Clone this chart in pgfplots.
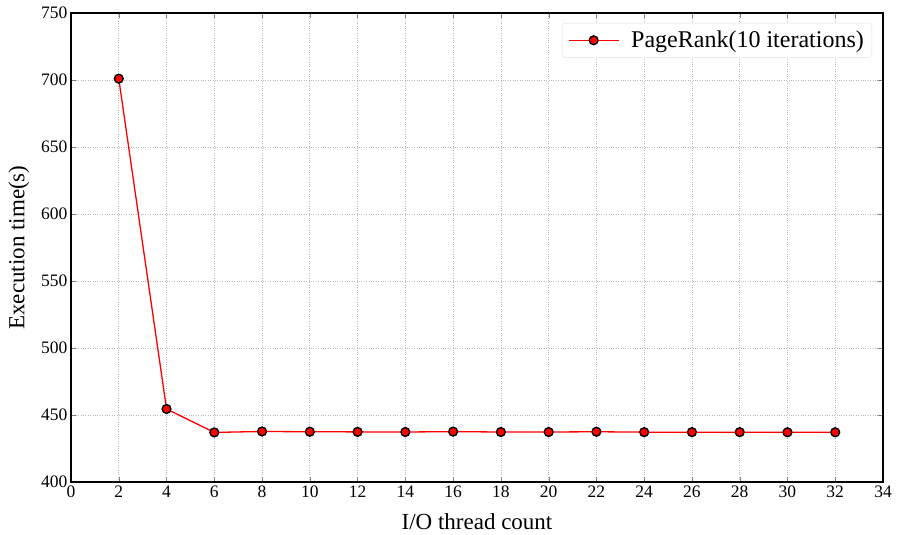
\documentclass[border=0pt]{standalone}
\usepackage{pgfplots}
\pgfplotsset{compat=1.18}
\usepackage{fontspec}
\setmainfont{Liberation Serif}

\begin{document}
\begin{tikzpicture}
\begin{axis}[
  name=ax,
  scale only axis,
  width=812pt, height=469pt,
  xmin=0, xmax=34, ymin=400, ymax=750,
  xtick={0,2,...,34}, ytick={400,450,...,750},
  xlabel={I/O thread count}, ylabel={Execution time(s)},
  label style={font=\fontsize{23}{27}\selectfont},
  tick label style={font=\fontsize{17.5}{20}\selectfont},
  /pgf/number format/assume math mode=true,
  /pgf/number format/1000 sep={},
  xlabel style={yshift=-9pt},
  ylabel style={yshift=5pt},
  tick align=inside, tick pos=both,
  major tick length=5pt,
  axis line style={line width=1.5pt},
  grid=major, grid style={dotted, gray!55, line width=0.7pt},
  legend style={at={(1,1)}, anchor=north east, xshift=-11pt, yshift=-10pt,
    font=\fontsize{24}{28}\selectfont, draw=gray!25, rounded corners=3pt,
    inner xsep=6pt, inner ysep=6pt, column sep=10pt},
  legend cell align=left,
  legend image code/.code={
    \draw[mark repeat=2, mark phase=2, #1] plot coordinates {(0cm,0cm)(0.875cm,0cm)(1.75cm,0cm)};
  },
]
\addplot[red, line width=1.3pt, mark=*, mark size=4.4pt,
  mark options={fill=red, draw=black, line width=1.4pt}] coordinates {
 (2,701)(4,454.5)(6,437)(8,437.7)(10,437.5)(12,437.4)(14,437.3)(16,437.6)
 (18,437.3)(20,437.3)(22,437.5)(24,437.2)(26,437.2)(28,437.2)(30,437.1)(32,437.1)
};
\addlegendentry{PageRank(10 iterations)}
\end{axis}
\useasboundingbox ([xshift=-71pt,yshift=-53pt]ax.south west) rectangle ([xshift=16pt,yshift=13pt]ax.north east);
\end{tikzpicture}
\end{document}
